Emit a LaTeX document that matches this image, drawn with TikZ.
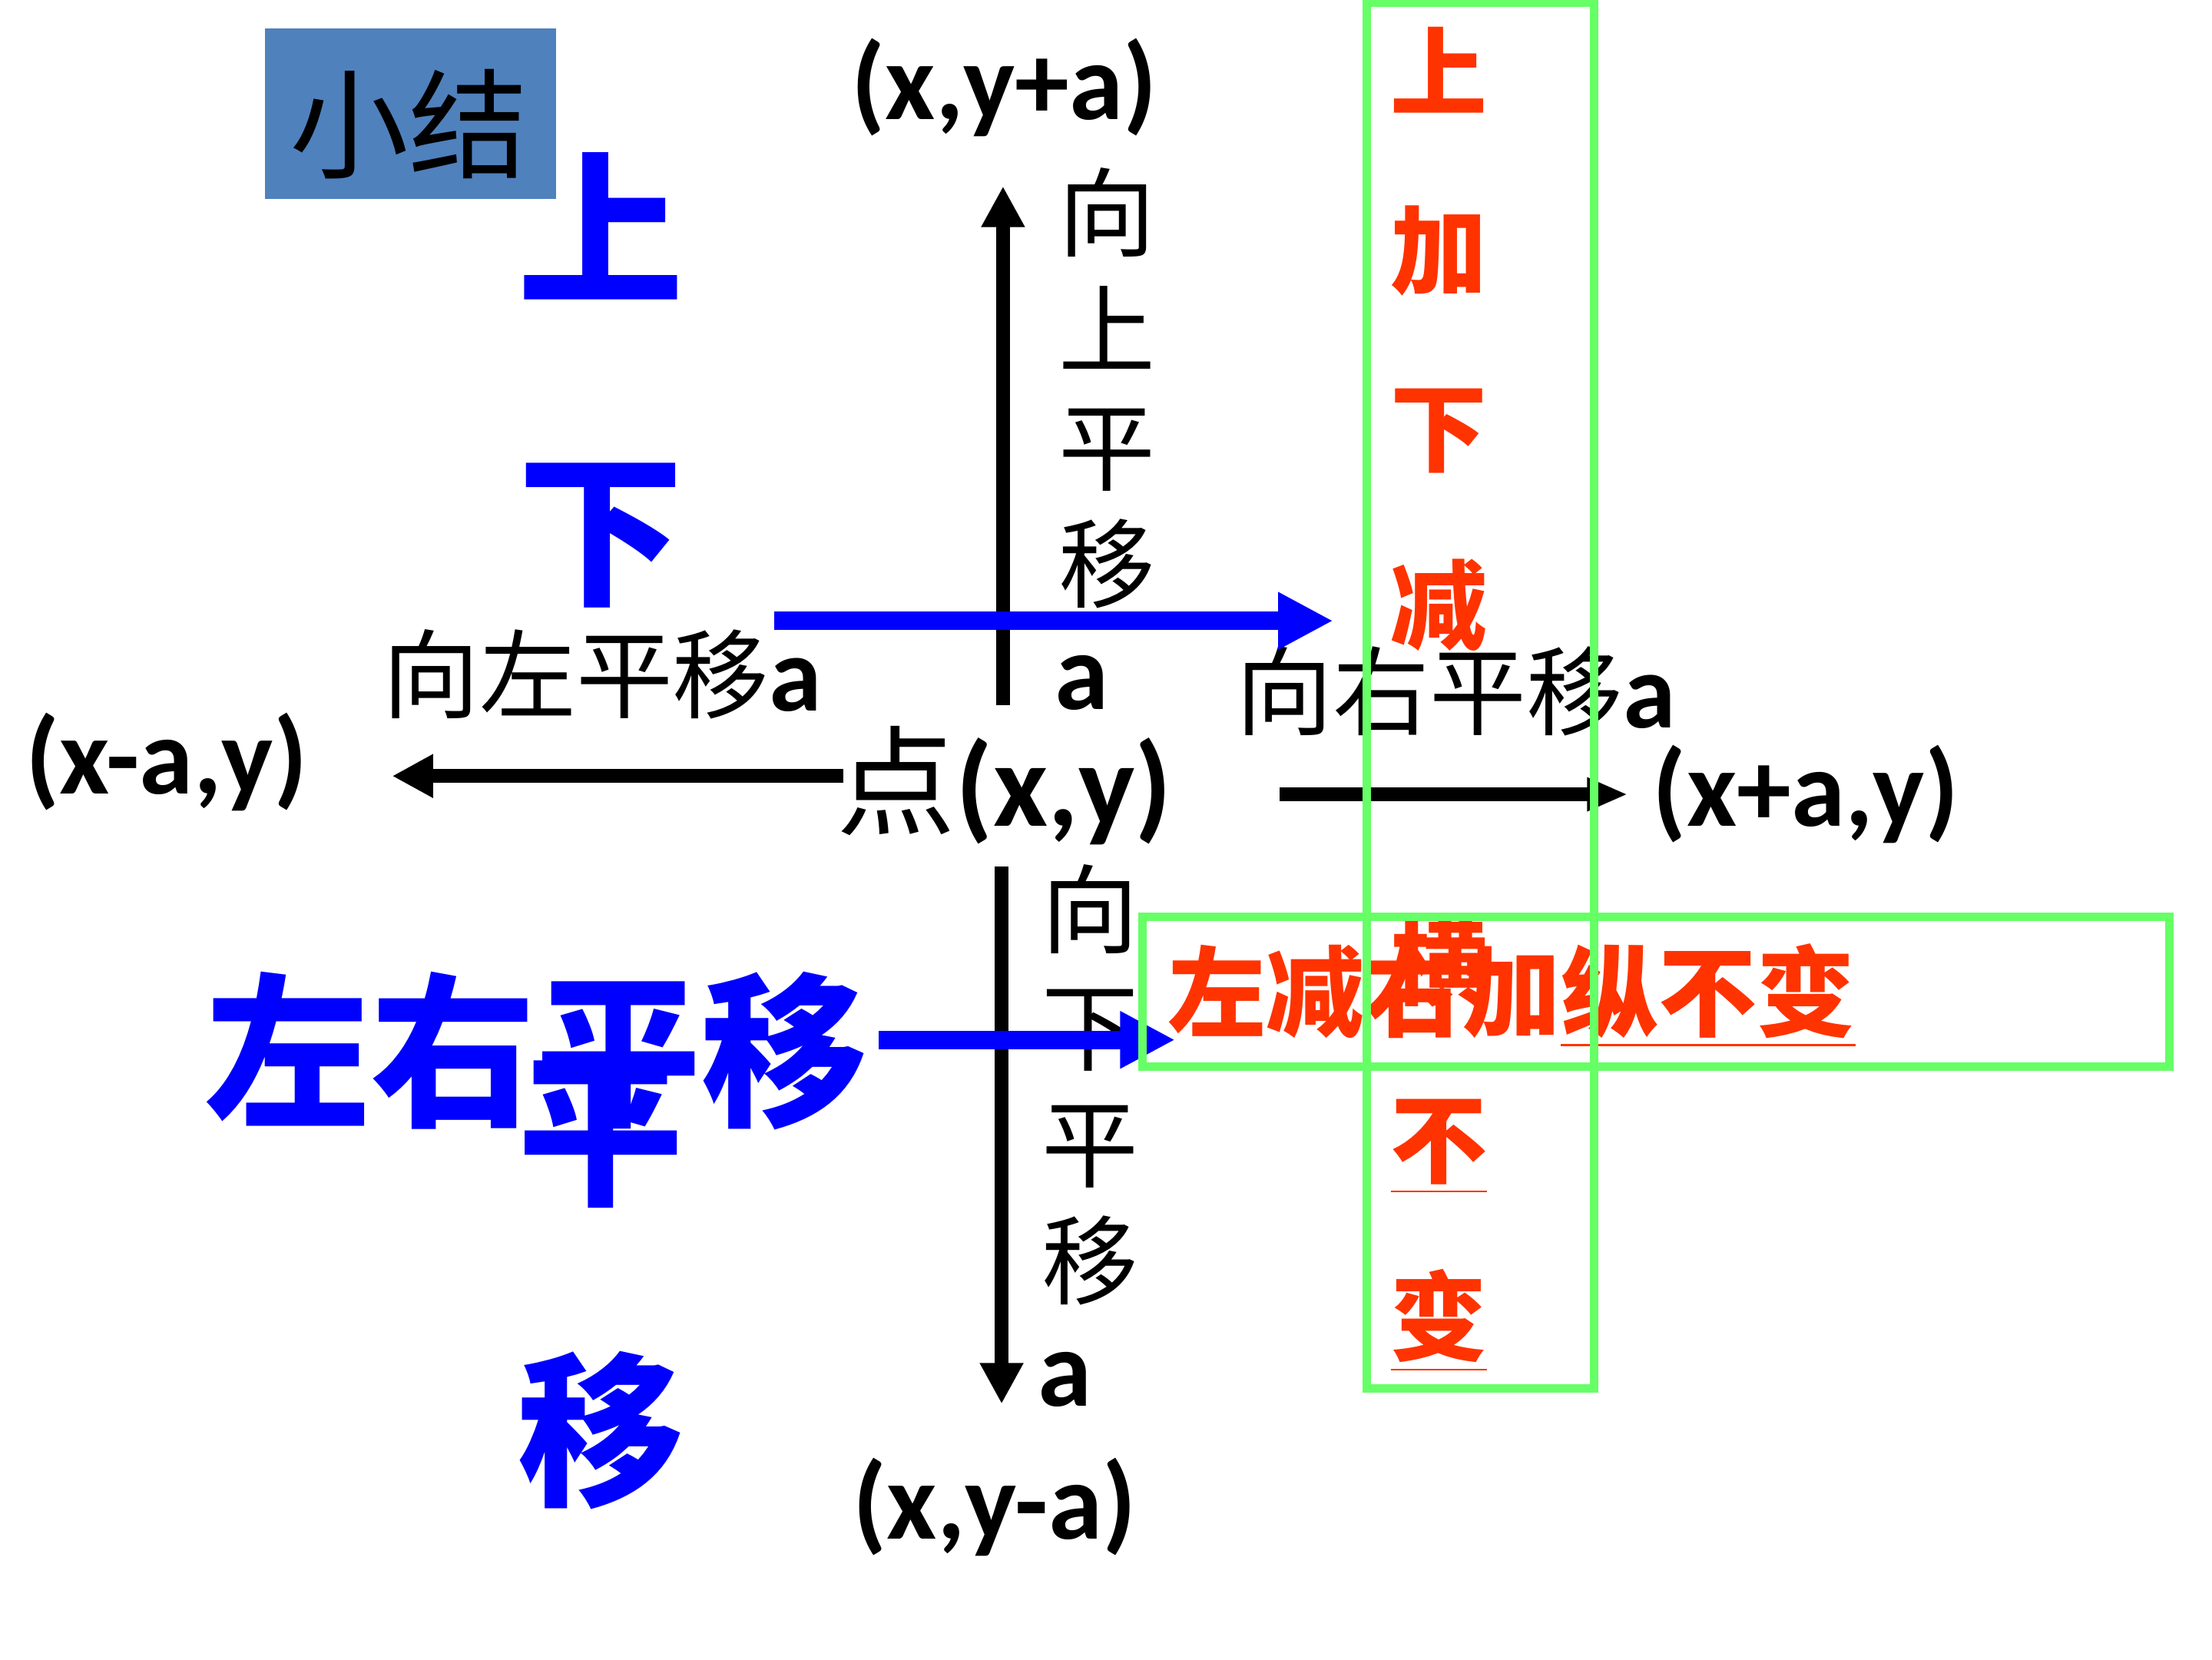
\documentclass[tikz,border=0pt]{standalone}
\usepackage{fontspec}
\usetikzlibrary{arrows.meta}
\newfontfamily\cjk{Noto Sans CJK SC}
\newfontfamily\carl{Carlito}
\definecolor{boxblue}{HTML}{4F81BD}
\definecolor{redo}{RGB}{255,51,0}
\definecolor{lgreen}{HTML}{66FF66}
\definecolor{pblue}{RGB}{0,0,255}
\begin{document}
\begin{tikzpicture}[x=0.1mm,y=-0.1mm,
  txt/.style={inner sep=0pt, outer sep=0pt},
  vtext/.style={txt, align=center, font=\cjk\fontsize{19.5}{23.6}\selectfont},
  htext/.style={txt, font=\cjk\fontsize{19.5}{23.6}\selectfont},
  coord/.style={txt, font=\carl\bfseries\fontsize{22}{26}\selectfont},
  bigblue/.style={txt, align=center, text=pblue, font=\cjk\bfseries\fontsize{33.4}{60.5}\selectfont},
  redtxt/.style={txt, align=center, text=redo, font=\cjk\bfseries\fontsize{19.5}{35.85}\selectfont},
  blackarrow/.style={draw=black, line width=0.95mm, -{Triangle[length=2.9mm,width=2.9mm]}},
  bluearrow/.style={draw=pblue, line width=1.3mm, -{Triangle[length=3.9mm,width=3.8mm]}},
  greenbox/.style={draw=lgreen, line width=0.6mm}
]
\useasboundingbox (0,0) rectangle (1568,1176);
\fill[white] (0,0) rectangle (1568,1176);

% title box
\node[txt, fill=boxblue, minimum width=20.6mm, minimum height=12.1mm] (sumbox) at (291,80.5) {};
\node[txt, font=\cjk\fontsize{24}{28}\selectfont] (sum) at (290,88) {小结};

% coordinates
\node[coord] (up) at (712,62) {(x,y+a)};
\node[coord] (down) at (705,1068) {(x,y-a)};
\node[coord] (left) at (118,540) {(x-a,y)};
\node[coord] (right) at (1280,563) {(x+a,y)};
\node[txt] (pt) at (712,557) {{\cjk\fontsize{24}{28}\selectfont 点}{\carl\bfseries\fontsize{24}{28}\selectfont (x,y)}};

% black labels
\node[vtext] (upl) at (785,275) {向\\上\\平\\移};
\node[coord] (upa) at (767,484) {a};
\node[vtext] (dnl) at (773,769) {向\\下\\平\\移};
\node[coord] (dna) at (755,978) {a};
\node[htext] (ll) at (427,478) {向左平移{\carl\bfseries\fontsize{21.5}{26}\selectfont a}};
\node[htext] (rl) at (1032,490) {向右平移{\carl\bfseries\fontsize{21.5}{26}\selectfont a}};

% black arrows
\coordinate (upS) at (711,500);
\coordinate (upT) at (711,132);
\coordinate (dnS) at (710,614);
\coordinate (dnT) at (710,995);
\coordinate (lfS) at (598,550);
\coordinate (lfT) at (278,550);
\coordinate (rtS) at (907,563);
\coordinate (rtT) at (1154,563);
\draw[blackarrow] (upS) -- (upT);
\draw[blackarrow] (dnS) -- (dnT);
\draw[blackarrow] (lfS) -- (lfT);
\draw[blackarrow, -{Triangle[length=2.9mm,width=2.2mm]}] (rtS) -- (rtT);

% red texts
\node[redtxt] (rcol) at (1020,496) {上\\加\\下\\减\\\phantom{横}\\横\\\underline{不}\\\underline{变}};
\node[redtxt, anchor=base west, font=\cjk\bfseries\fontsize{19.8}{24}\selectfont] (rrow) at (828,729) {左减右加\underline{纵不变}};

% blue texts and arrows
\node[bigblue] (udcol) at (426,589) {上\\下\\\phantom{下}\\平\\移};
\node[bigblue] (lrrow) at (380,745) {左右平移};
\coordinate (b1S) at (549,440);
\coordinate (b1T) at (945,440);
\coordinate (b2S) at (623,737);
\coordinate (b2T) at (833,737);
\draw[bluearrow] (b1S) -- (b1T);
\draw[bluearrow] (b2S) -- (b2T);

% green boxes
\draw[greenbox] (969,2) rectangle (1130,984);
\draw[greenbox] (810,650) rectangle (1538,756);
\end{tikzpicture}
\end{document}
